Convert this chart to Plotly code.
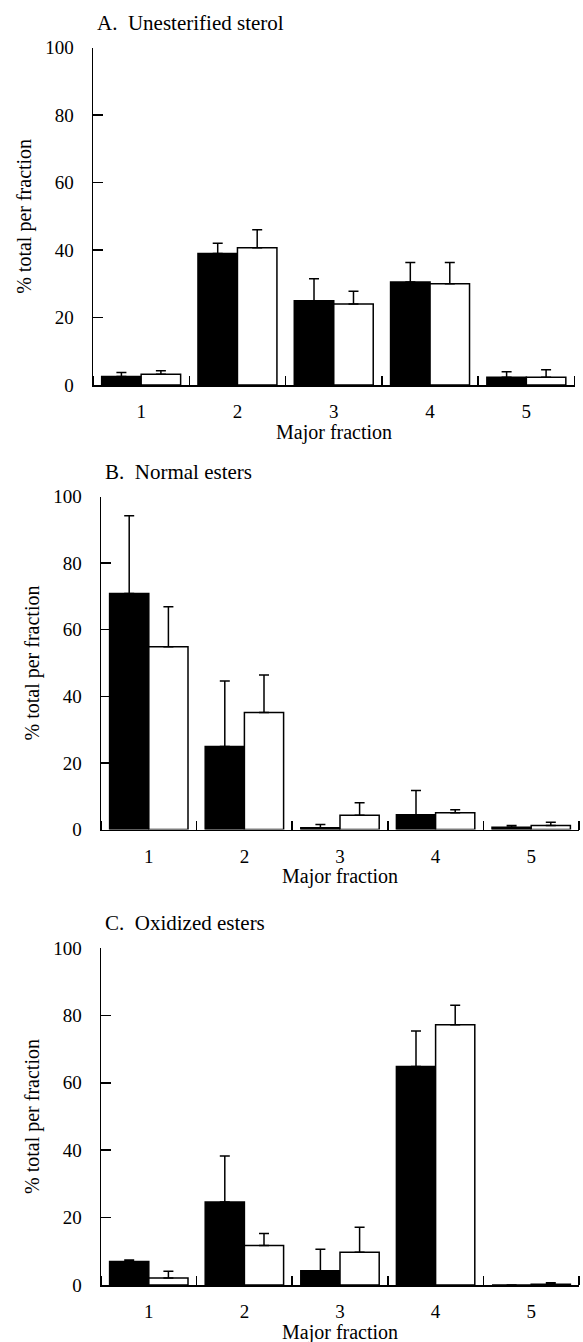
import plotly.graph_objects as go

fractions = [1, 2, 3, 4, 5]
tick_labels = ["1", "2", "3", "4", "5"]

panel_titles = ["A.\u00a0 Unesterified sterol", "B.\u00a0 Normal esters", "C.\u00a0 Oxidized esters"]
x_title = "Major fraction"
y_title = "% total per fraction"

A_black = [2.5, 39.0, 25.0, 30.5, 2.3]
A_black_err = [1.2, 3.0, 6.5, 5.8, 1.6]
A_white = [3.2, 40.7, 24.0, 30.0, 2.3]
A_white_err = [1.0, 5.3, 3.8, 6.3, 2.2]

B_black = [70.9, 24.9, 0.5, 4.4, 0.7]
B_black_err = [23.3, 19.7, 1.0, 7.3, 0.5]
B_white = [54.9, 35.1, 4.3, 5.0, 1.2]
B_white_err = [12.0, 11.3, 3.7, 0.9, 1.0]

C_black = [7.0, 24.6, 4.2, 64.8, 0.0]
C_black_err = [0.4, 13.7, 6.4, 10.6, 0.0]
C_white = [2.1, 11.7, 9.7, 77.2, 0.2]
C_white_err = [2.0, 3.6, 7.4, 5.8, 0.5]

y_ticks = [0, 20, 40, 60, 80, 100]

W, H = 583, 1342
FONT = "'Liberation Serif', 'Times New Roman', 'DejaVu Serif', serif"
TICK_FS = 19
LABEL_FS = 20
PANEL_FS = 21

panels = [
    (A_black, A_black_err, A_white, A_white_err),
    (B_black, B_black_err, B_white, B_white_err),
    (C_black, C_black_err, C_white, C_white_err),
]
# pixel layout (left, right, y of 0, y of 100)
geom = [
    (93, 574.5, 385, 47.7),
    (101, 579, 829.5, 496.5),
    (101, 579, 1285, 948),
]

fig = go.Figure()
layout = dict(
    width=W, height=H,
    margin=dict(l=0, r=0, t=0, b=0, pad=0, autoexpand=False),
    paper_bgcolor="white", plot_bgcolor="white",
    showlegend=False,
    barmode="group", bargap=0.18, bargroupgap=0,
    font=dict(family=FONT, size=TICK_FS, color="black"),
)
annotations = []
tickfont = dict(family=FONT, size=TICK_FS, color="black")
labfont = dict(family=FONT, size=LABEL_FS, color="black")
panfont = dict(family=FONT, size=PANEL_FS, color="black")

for i, ((bk, bke, wh, whe), (xl, xr, y0, y100)) in enumerate(zip(panels, geom)):
    n = i + 1
    xa = "x" if n == 1 else f"x{n}"
    ya = "y" if n == 1 else f"y{n}"
    err_style = dict(type="data", symmetric=False, arrayminus=[0] * 5,
                     color="black", thickness=1.5, width=5, visible=True)
    fig.add_trace(go.Bar(
        x=fractions, y=bk, xaxis=xa, yaxis=ya,
        marker=dict(color="black", line=dict(color="black", width=1.5)),
        error_y=dict(array=bke, **err_style),
        offsetgroup="black", name="black",
    ))
    fig.add_trace(go.Bar(
        x=fractions, y=wh, xaxis=xa, yaxis=ya,
        marker=dict(color="white", line=dict(color="black", width=1.5)),
        error_y=dict(array=whe, **err_style),
        offsetgroup="white", name="white",
    ))
    xdom = [xl / W, xr / W]
    ydom = [(H - y0) / H, (H - y100) / H]
    layout["xaxis" if n == 1 else f"xaxis{n}"] = dict(
        domain=xdom, range=[0.5, 5.5], anchor=ya, automargin=False,
        tickmode="array", tickvals=fractions, ticktext=tick_labels,
        ticks="", ticklabelstandoff=9,
        minor=dict(tick0=0.5, dtick=1, ticks="inside", ticklen=9,
                   tickwidth=1.5, tickcolor="black", showgrid=False),
        showline=True, linecolor="black", linewidth=1.5,
        showgrid=False, zeroline=False, fixedrange=True,
        tickfont=tickfont,
    )
    layout["yaxis" if n == 1 else f"yaxis{n}"] = dict(
        domain=ydom, range=[0, 100], anchor=xa, automargin=False,
        tickmode="array", tickvals=y_ticks,
        ticks="inside", ticklen=10, tickwidth=1.5, tickcolor="black",
        ticklabelstandoff=14,
        showline=True, linecolor="black", linewidth=1.5,
        showgrid=False, zeroline=False, fixedrange=True,
        tickfont=tickfont,
        title=dict(text=y_title, standoff=8, font=labfont),
    )
    annotations.append(dict(
        text=panel_titles[i], xref="paper", yref="paper",
        x=(xl + 2) / W, y=(H - (y100 - 25)) / H,
        xanchor="left", yanchor="middle", showarrow=False, font=panfont,
    ))
    annotations.append(dict(
        text=x_title, xref="paper", yref="paper",
        x=(xl + xr) / 2 / W, y=(H - (y0 + 47)) / H,
        xanchor="center", yanchor="middle", showarrow=False, font=labfont,
    ))

layout["annotations"] = annotations
fig.update_layout(**layout)
fig.write_html("out.html",
               config={"displayModeBar": False, "staticPlot": True},
               post_script="document.body.style.margin='0px';document.body.style.padding='0px';")
